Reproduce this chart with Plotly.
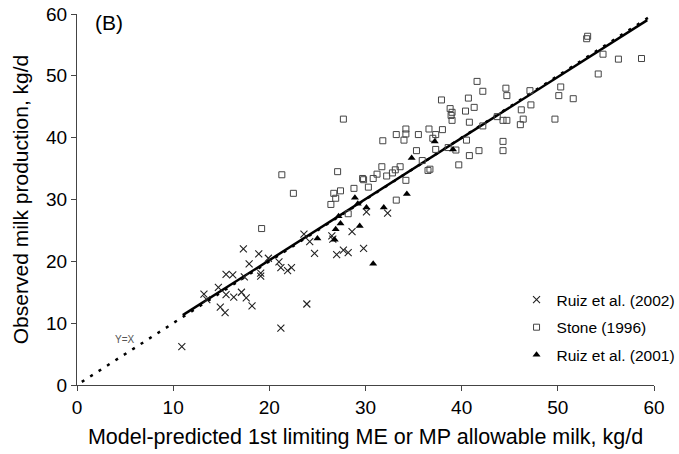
import plotly.graph_objects as go

# Ruiz et al. (2002) - crosses
ruiz02_x = [10.9, 13.2, 13.5, 14.7, 14.9, 15.4, 15.5, 15.5, 16.2, 16.3, 17.1, 17.3, 17.4, 17.6,
            17.9, 18.2, 18.9, 19.1, 19.1, 19.9, 21.0, 21.2, 21.2, 21.9, 22.3, 23.6, 23.9, 24.2,
            24.7, 26.5, 26.6, 27.0, 27.7, 28.2, 28.6, 29.8, 30.1, 32.3]
ruiz02_y = [6.2, 14.7, 13.8, 15.8, 12.6, 11.7, 17.9, 14.6, 17.8, 14.2, 15.0, 22.0, 17.5, 14.1,
            19.6, 12.8, 21.2, 18.1, 17.6, 20.5, 19.9, 19.0, 9.2, 18.5, 19.0, 24.4, 13.1, 23.2,
            21.3, 24.1, 23.6, 21.1, 21.8, 21.4, 24.8, 22.1, 28.0, 27.8]

# Stone (1996) - open squares
stone_x = [19.2, 21.3, 22.5, 26.4, 26.7, 26.9, 27.1, 27.4, 27.7, 28.2, 28.8, 29.7, 29.8, 30.3,
           30.8, 31.2, 31.7, 31.8, 32.2, 32.8, 33.1, 33.2, 33.2, 33.6, 34.0, 34.2, 34.2, 34.2,
           35.3, 35.5, 35.9, 36.5, 36.7, 36.6, 37.0, 37.3, 37.3, 37.9, 38.0, 38.6, 38.8, 39.0,
           38.9, 39.0, 39.4, 39.7, 40.4, 40.5, 40.7, 40.8, 40.8, 41.3, 41.6, 41.8, 42.2, 42.2,
           43.7, 44.3, 44.7, 44.3, 44.3, 44.6, 44.7, 46.1, 46.2, 46.4, 47.1, 47.2, 49.7, 50.1,
           50.3, 51.6, 53.0, 53.1, 54.2, 54.7, 56.3, 58.7]
stone_y = [25.3, 34.0, 31.0, 29.2, 31.0, 30.2, 34.5, 31.4, 43.0, 27.7, 31.8, 33.4, 33.2, 32.0,
           33.4, 34.1, 35.3, 39.5, 33.8, 34.3, 34.8, 29.9, 40.5, 35.3, 39.6, 41.4, 40.6, 33.1,
           37.9, 40.5, 36.3, 34.7, 34.9, 41.4, 39.9, 40.5, 38.1, 46.1, 41.3, 38.4, 44.7, 44.1,
           43.6, 42.8, 38.0, 35.6, 44.3, 39.6, 46.4, 42.5, 37.1, 44.9, 49.1, 37.9, 47.5, 41.9,
           43.4, 42.8, 42.8, 39.4, 37.9, 48.0, 46.8, 42.1, 44.5, 43.0, 47.6, 45.3, 43.0, 46.8,
           48.2, 46.3, 56.0, 56.4, 50.3, 53.5, 52.7, 52.8]

# Ruiz et al. (2001) - filled triangles
ruiz01_x = [25.0, 26.8, 26.9, 27.4, 27.2, 28.9, 29.2, 30.1, 29.4, 31.9, 34.3, 30.8, 34.8, 37.2, 39.1]
ruiz01_y = [23.7, 23.5, 25.2, 26.1, 27.3, 30.3, 29.3, 28.7, 25.7, 28.7, 30.9, 19.6, 36.7, 39.4, 38.1]

# Regression line and Y=X line
reg_x = [11.0, 59.3]
reg_y = [11.3, 59.0]
yx_x = [0.5, 59.6]
yx_y = [0.5, 59.6]

x_ticks = [0, 10, 20, 30, 40, 50, 60]
y_ticks = [0, 10, 20, 30, 40, 50, 60]

FONT = "Liberation Sans, Arial, sans-serif"

fig = go.Figure()
fig.add_trace(go.Scatter(x=yx_x, y=yx_y, mode="lines", showlegend=False,
                         line=dict(color="black", width=2.5, dash="3px,7px")))
fig.add_trace(go.Scatter(x=reg_x, y=reg_y, mode="lines", showlegend=False,
                         line=dict(color="black", width=2.5)))
fig.add_trace(go.Scatter(x=ruiz02_x, y=ruiz02_y, mode="markers", name="Ruiz et al. (2002)",
                         legendgroup="a",
                         marker=dict(symbol="x-thin", size=7, color="#222",
                                     line=dict(width=1.1, color="#222"))))
fig.add_trace(go.Scatter(x=stone_x, y=stone_y, mode="markers", name="Stone (1996)",
                         legendgroup="b",
                         marker=dict(symbol="square-open", size=6, color="#444",
                                     line=dict(width=1))))
fig.add_trace(go.Scatter(x=ruiz01_x, y=ruiz01_y, mode="markers", name="Ruiz et al. (2001)",
                         legendgroup="c",
                         marker=dict(symbol="triangle-up", size=7, color="black")))

fig.add_annotation(x=0.028, y=0.978, xref="paper", yref="paper", text="(B)", showarrow=False,
                   xanchor="left", yanchor="middle", font=dict(size=21, color="black", family=FONT))
fig.add_annotation(x=5.0, y=7.4, text="Y=X", showarrow=False,
                   font=dict(size=10, color="#555", family=FONT))

fig.update_layout(
    width=679, height=454,
    margin=dict(l=77, r=25, t=14, b=69, autoexpand=False),
    paper_bgcolor="white", plot_bgcolor="white",
    hovermode=False,
    font=dict(family=FONT, color="black"),
    legend=dict(x=1.046, y=0.275, xanchor="right", yanchor="top", font=dict(size=15.5),
                bgcolor="rgba(0,0,0,0)", tracegroupgap=4.5, itemwidth=30),
    xaxis=dict(range=[0, 60], tickvals=x_ticks, ticks="outside", ticklen=5, tickwidth=1,
               tickcolor="#444", showline=True, linecolor="#444", linewidth=1,
               showgrid=False, zeroline=False, tickfont=dict(size=19), automargin=False,
               ticklabeloverflow="allow",
               title=dict(text="Model-predicted 1st limiting ME or MP allowable milk, kg/d",
                          font=dict(size=21.5), standoff=12)),
    yaxis=dict(range=[0, 60], tickvals=y_ticks, ticks="outside", ticklen=5, tickwidth=1,
               tickcolor="#444", showline=True, linecolor="#444", linewidth=1,
               showgrid=False, zeroline=False, tickfont=dict(size=19), automargin=False,
               ticklabeloverflow="allow",
               title=dict(text="Observed milk production, kg/d", font=dict(size=21),
                          standoff=11)),
)

fig.write_html("out.html", config={"displayModeBar": False, "staticPlot": True},
               post_script="document.body.style.margin='0';")
